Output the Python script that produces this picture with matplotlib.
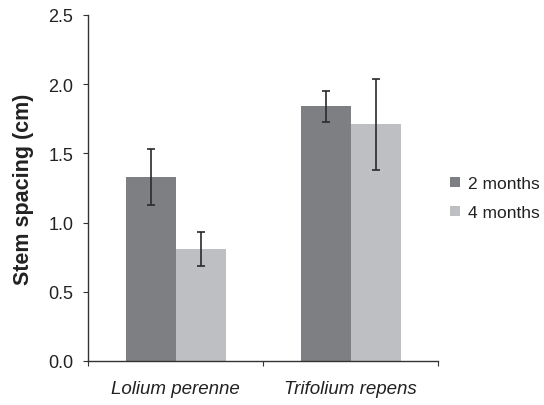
import numpy as np
import matplotlib.pyplot as plt

plt.rcParams['font.family'] = ['Liberation Sans', 'DejaVu Sans']

species = ["Lolium perenne", "Trifolium repens"]
series = ["2 months", "4 months"]
means_2m = [1.33, 1.84]
err_2m = [0.20, 0.11]
means_4m = [0.81, 1.71]
err_4m = [0.12, 0.33]

colors = ["#7e7f83", "#bebfc2"]

fig = plt.figure(figsize=(5.44, 4.06), dpi=100)
ax = fig.add_axes([88/544, 44/406, 350/544, 346/406])

x = np.arange(len(species)) + 0.5
w = 50 / 175
ekw = dict(ecolor="#2a2a2a", elinewidth=1.2, capsize=2.8, capthick=1.2)
ax.bar(x - w/2, means_2m, w, yerr=err_2m, color=colors[0], label=series[0], error_kw=ekw)
ax.bar(x + w/2, means_4m, w, yerr=err_4m, color=colors[1], label=series[1], error_kw=ekw)

ax.set_xlim(0, 2)
ax.set_ylim(0, 2.5)
ax.set_yticks([0, 0.5, 1.0, 1.5, 2.0, 2.5])
ax.set_yticklabels(["0.0", "0.5", "1.0", "1.5", "2.0", "2.5"])
ax.set_xticks([0, 1, 2])
ax.set_xticklabels([])
ax.set_xticks(x, minor=True)
ax.set_xticklabels(species, minor=True, fontstyle="italic", fontsize=13.5, color="#222222")
ax.tick_params(axis="x", which="minor", length=0, pad=14)
ax.tick_params(axis="x", which="major", length=3.5, direction="out", color="#333333")
ax.tick_params(axis="y", length=3.5, pad=7, direction="out", labelsize=13,
               color="#333333", labelcolor="#222222")

for s in ["top", "right"]:
    ax.spines[s].set_visible(False)
for s in ["left", "bottom"]:
    ax.spines[s].set_color("#333333")
    ax.spines[s].set_linewidth(1.0)

ax.set_ylabel("Stem spacing (cm)", fontsize=15.5, fontweight="bold", color="#222222")
ax.yaxis.set_label_coords(-0.155, 0.5)

fig.legend(loc="center left", bbox_to_anchor=(0.799, 0.509), bbox_transform=fig.transFigure,
           frameon=False, fontsize=12.5, handlelength=0.55, handleheight=0.55,
           handletextpad=0.45, labelspacing=0.8, labelcolor="#222222")

fig.savefig("out.png", dpi=100)
